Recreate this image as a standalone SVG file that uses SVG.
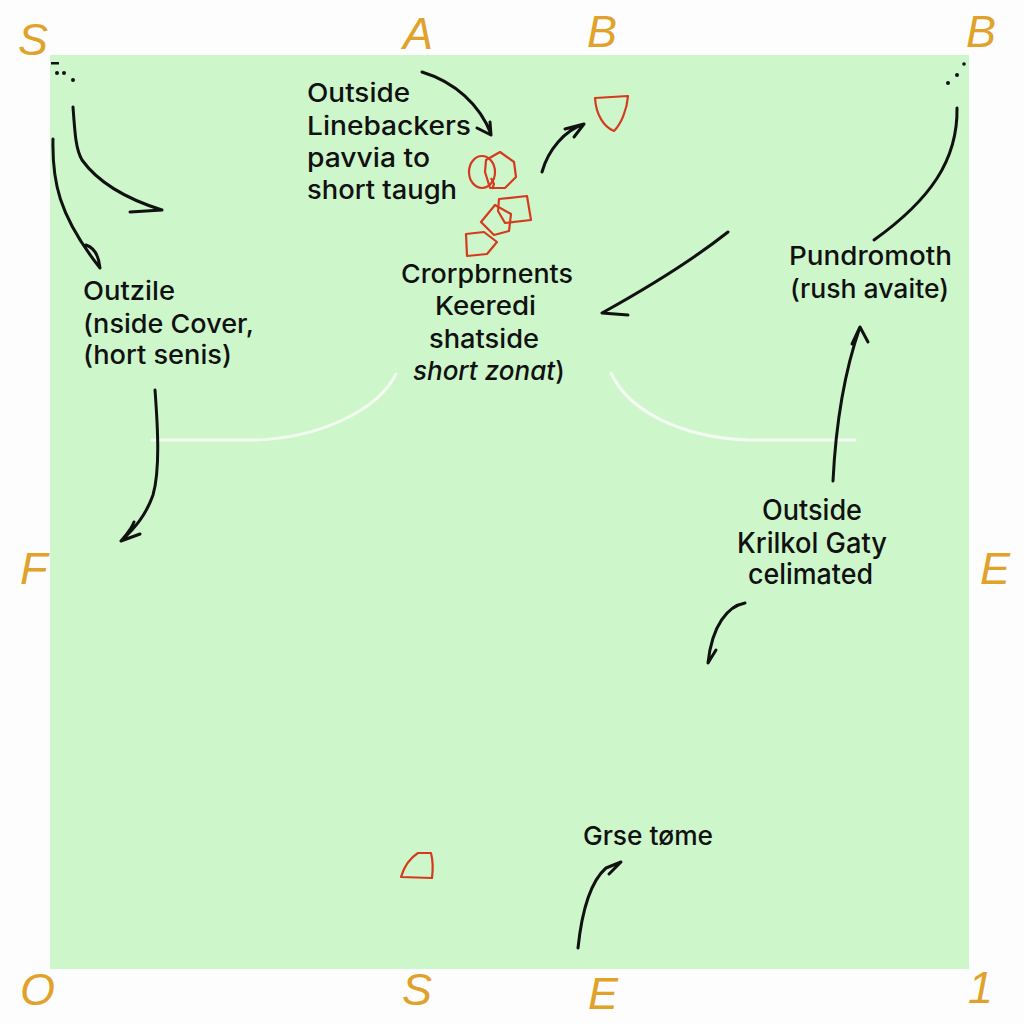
<svg xmlns="http://www.w3.org/2000/svg" width="1024" height="1024" viewBox="0 0 1024 1024">
<style>
.lbl{font-family:Inter,"Liberation Sans",sans-serif;font-size:26px;fill:#111;font-weight:500}
.cond{font-family:Inter,"Liberation Sans",sans-serif;font-size:28px;fill:#111;font-weight:500}
.corner{font-family:"Liberation Sans",Arial,sans-serif;font-style:italic;font-size:45px;fill:#e0a22a}
.ink{fill:none;stroke:#111;stroke-width:3;stroke-linecap:round;stroke-linejoin:round}
.red{fill:none;stroke:#d63a1e;stroke-width:2.2;stroke-linejoin:round}
.chalk{fill:none;stroke:#f4fbf2;stroke-width:3;stroke-linecap:round}
.dot{fill:#111}
</style>
<rect x="0" y="0" width="1024" height="1024" fill="#fdfdfd"/>
<rect id="field" x="50" y="55" width="919" height="914" fill="#cdf7cb"/>

<g id="field-lines">
<path class="chalk" d="M152,440 L255,440 C320,438 378,410 396,374"/>
<path class="chalk" d="M611,373 C628,410 680,438 750,440 L855,440"/>
</g>

<g id="corner-labels">
<text class="corner" x="18" y="55">S</text>
<text class="corner" x="403" y="49">A</text>
<text class="corner" x="587" y="47">B</text>
<text class="corner" x="966" y="47">B</text>
<text class="corner" x="20" y="584">F</text>
<text class="corner" x="980" y="584">E</text>
<text class="corner" x="20" y="1005">O</text>
<text class="corner" x="402" y="1005">S</text>
<text class="corner" x="588" y="1009">E</text>
<text class="corner" x="968" y="1003">1</text>
</g>

<g id="players">
<ellipse class="red" cx="482" cy="172" rx="13" ry="16"/>
<path class="red" d="M486,160 L500,152 L514,162 L516,177 L505,188 L490,188 L485,172 Z M491,178 L494,184 L492,189"/>
<path class="red" d="M499,199 L527,196 L531,220 L505,223 L498,211 Z"/>
<path class="red" d="M495,205 L511,214 L509,231 L494,235 L481,222 Z"/>
<path class="red" d="M466,234 L484,232 L497,242 L487,254 L467,256 Z"/>
<path class="red" d="M595,98 L628,96 C627,110 621,124 614,131 C604,127 596,115 595,98 Z"/>
<path class="red" d="M401,877 C404,867 410,858 418,853 L431,853 C433,861 433,870 432,878 Z"/>
</g>

<g id="connectors">
<rect class="dot" x="51" y="62" width="8" height="2.5"/>
<circle class="dot" cx="57" cy="73" r="2"/>
<circle class="dot" cx="64" cy="73" r="2"/>
<circle class="dot" cx="73" cy="80" r="2"/>
<path class="ink" d="M73,107 C75,135 76,150 82,160 C100,185 130,200 162,210 M130,212 L162,210"/>
<path class="ink" d="M53,139 C52,180 58,215 100,268 M86,245 C95,248 99,258 100,268"/>
<path class="ink" d="M155,390 C158,430 160,470 153,495 C146,515 135,528 121,541 M134,522 C131,530 125,536 121,541 L140,534"/>
<path class="ink" d="M422,72 C455,82 480,105 491,134 M477,128 L491,135 L490,122"/>
<path class="ink" d="M542,172 C548,150 565,130 584,124 M565,129 L584,124 L574,137"/>
<path class="ink" d="M728,232 C690,262 640,292 602,313 L628,315"/>
<circle class="dot" cx="964" cy="64" r="1.8"/>
<circle class="dot" cx="957" cy="75" r="2"/>
<circle class="dot" cx="948" cy="83" r="2"/>
<path class="ink" d="M957,108 C958,160 930,200 874,240"/>
<path class="ink" d="M833,481 C836,420 845,370 860,327 M852,344 L860,327 L868,342"/>
<path class="ink" d="M745,603 C728,606 712,625 708,663 L716,650"/>
<path class="ink" d="M578,948 C582,910 590,882 606,868 L621,862 L609,874"/>
</g>

<g id="label-linebackers">
<text class="lbl" x="307" y="102" textLength="103" lengthAdjust="spacingAndGlyphs">Outside</text>
<text class="lbl" x="307" y="135" textLength="164" lengthAdjust="spacingAndGlyphs">Linebackers</text>
<text class="lbl" x="307" y="167" textLength="123" lengthAdjust="spacingAndGlyphs">pavvia to</text>
<text class="lbl" x="307" y="199" textLength="150" lengthAdjust="spacingAndGlyphs">short taugh</text>
</g>

<g id="label-outzile">
<text class="lbl" x="83" y="300" textLength="92" lengthAdjust="spacingAndGlyphs">Outzile</text>
<text class="lbl" x="83" y="333" textLength="171" lengthAdjust="spacingAndGlyphs">(nside Cover,</text>
<text class="lbl" x="83" y="364" textLength="149" lengthAdjust="spacingAndGlyphs">(hort senis)</text>
</g>

<g id="label-crorpbrnents">
<text class="lbl" x="401" y="283" textLength="172" lengthAdjust="spacingAndGlyphs">Crorpbrnents</text>
<text class="lbl" x="435" y="315" textLength="101" lengthAdjust="spacingAndGlyphs">Keeredi</text>
<text class="lbl" x="429" y="348" textLength="110" lengthAdjust="spacingAndGlyphs">shatside</text>
<text class="lbl" x="413" y="380"><tspan font-style="italic">short zonat</tspan>)</text>
</g>

<g id="label-pundromoth">
<text class="lbl" x="789" y="265" textLength="163" lengthAdjust="spacingAndGlyphs">Pundromoth</text>
<text class="lbl" x="790" y="298" textLength="159" lengthAdjust="spacingAndGlyphs">(rush avaite)</text>
</g>

<g id="label-krilkol">
<text class="cond" x="762" y="520" textLength="100" lengthAdjust="spacingAndGlyphs">Outside</text>
<text class="cond" x="737" y="553" textLength="150" lengthAdjust="spacingAndGlyphs">Krilkol Gaty</text>
<text class="cond" x="748" y="584" textLength="125" lengthAdjust="spacingAndGlyphs">celimated</text>
</g>

<g id="label-grse">
<text class="lbl" x="583" y="845" textLength="130" lengthAdjust="spacingAndGlyphs">Grse tøme</text>
</g>
</svg>
